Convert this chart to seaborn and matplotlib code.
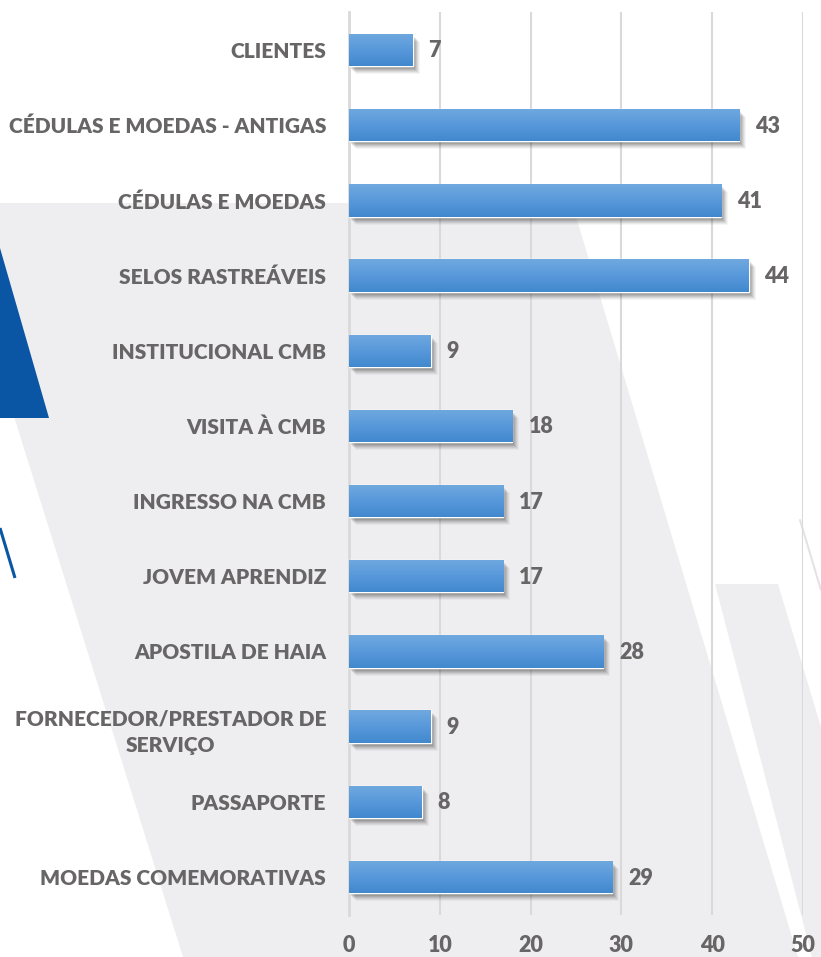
import numpy as np
import pandas as pd
import matplotlib
matplotlib.use("Agg")
import matplotlib.pyplot as plt
import matplotlib.transforms as mtransforms
from matplotlib.patches import Polygon, Rectangle
import seaborn as sns

categories = [
    "CLIENTES",
    "CÉDULAS E MOEDAS - ANTIGAS",
    "CÉDULAS E MOEDAS",
    "SELOS RASTREÁVEIS",
    "INSTITUCIONAL CMB",
    "VISITA À CMB",
    "INGRESSO NA CMB",
    "JOVEM APRENDIZ",
    "APOSTILA DE HAIA",
    "FORNECEDOR/PRESTADOR DE\nSERVIÇO",
    "PASSAPORTE",
    "MOEDAS COMEMORATIVAS",
]
values = [7, 43, 41, 44, 9, 18, 17, 17, 28, 9, 8, 29]
x_ticks = [0, 10, 20, 30, 40, 50]

df = pd.DataFrame({"categoria": categories, "valor": values})

sns.set_theme(style="white")
plt.rcParams["font.family"] = ["Lato", "DejaVu Sans"]

W, H = 821, 957
fig = plt.figure(figsize=(W / 100, H / 100), dpi=100)
fig.patch.set_facecolor("white")

# background decoration (figure pixel coords, y downward)
bg = fig.add_axes([0, 0, 1, 1], zorder=0)
bg.set_xlim(0, W)
bg.set_ylim(H, 0)
bg.axis("off")
gray = "#eeeef0"
bg.add_patch(Polygon([(0, 203), (572, 203), (798, 957), (183, 957), (12, 410), (0, 410)],
                     closed=True, facecolor=gray, edgecolor="none"))
bg.add_patch(Polygon([(715, 584), (778, 584), (821, 727), (821, 957), (812, 957)],
                     closed=True, facecolor=gray, edgecolor="none"))
bg.add_patch(Polygon([(0, 248), (49, 418), (0, 418)], closed=True,
                     facecolor="#0b56a4", edgecolor="none"))
bg.plot([0, 15], [528, 578], color="#0b56a4", lw=2.2, solid_capstyle="butt")
bg.plot([800, 821], [520, 590], color="#e4e4e8", lw=1.5)

# chart axes
left, right = 349 / W, 803 / W
top, bottom = 1 - 12.4 / H, 1 - 914.6 / H
ax = fig.add_axes([left, bottom, right - left, top - bottom], zorder=1)
ax.patch.set_alpha(0)

sns.barplot(data=df, x="valor", y="categoria", orient="h", color="#4f94d8",
            width=0.43, ax=ax, zorder=3)

ax.set_xlim(0, 50)
ax.set_ylim(len(categories) - 0.5, -0.5)
ax.set_xlabel("")
ax.set_ylabel("")

# gridlines
ax.set_xticks(x_ticks)
ax.xaxis.grid(True, color="#d9d9d9", lw=1.5, zorder=0)
ax.set_axisbelow(True)
for s in ["top", "right", "bottom"]:
    ax.spines[s].set_visible(False)
ax.spines["left"].set_color("#d9d9d9")
ax.spines["left"].set_linewidth(2)

txt_color = "#676565"
FW = "heavy"
ax.tick_params(axis="x", length=0, pad=14.5, labelsize=15.5, labelcolor=txt_color)
ax.tick_params(axis="y", which="major", length=0, pad=16.5, labelsize=15, labelcolor=txt_color)
for lab in ax.get_xticklabels() + ax.get_yticklabels():
    lab.set_fontweight(FW)
for lab in ax.get_yticklabels():
    lab.set_multialignment("center")
    lab.set_linespacing(1.5)

ax.set_yticks(np.arange(-0.5, len(categories), 1.0), minor=True)
ax.tick_params(axis="y", which="minor", length=7, width=2, color="#d9d9d9", direction="out")

# gradient fill + shadow for bars
grad = np.linspace(0, 1, 64).reshape(-1, 1)
cmap = matplotlib.colors.LinearSegmentedColormap.from_list("bb", ["#70a9df", "#5899db", "#4288cd"])
for p in list(ax.patches):
    x0, y0 = p.get_x(), p.get_y()
    w, h = p.get_width(), p.get_height()
    for (dx, dy, a) in [(7, -8, 0.05), (6, -7, 0.07), (5, -6, 0.09), (4, -5, 0.11),
                        (3, -4, 0.13), (2, -3, 0.14)]:
        tr = mtransforms.offset_copy(ax.transData, fig=fig, x=dx, y=dy, units="dots")
        ax.add_patch(Rectangle((x0, y0), w, h, transform=tr, facecolor="#404040",
                               alpha=a, edgecolor="none", zorder=2))
    im = ax.imshow(grad, extent=(x0, x0 + w, y0 + h, y0), aspect="auto", cmap=cmap,
                   zorder=4, interpolation="bilinear")
    im.set_clip_path(p)
    ax.text(x0 + w, y0 + h / 2, f"{int(round(w))}", va="center", ha="left",
            fontsize=15.5, fontweight=FW, color=txt_color, zorder=5,
            transform=mtransforms.offset_copy(ax.transData, fig=fig, x=16, y=-1, units="dots"))

ax.set_xlim(0, 50)
ax.set_ylim(len(categories) - 0.5, -0.5)

fig.savefig("out.png", dpi=100)
